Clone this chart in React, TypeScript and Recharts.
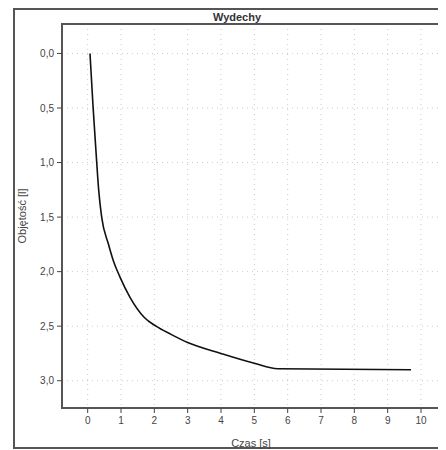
import React from "react";
import { LineChart, Line, XAxis, YAxis, CartesianGrid, ReferenceArea } from "recharts";

const timeS = [0.07, 0.16, 0.25, 0.33, 0.42, 0.62, 0.77, 0.97, 1.27, 1.7, 2.05, 2.5, 3.0, 4.0, 5.0, 5.7, 9.7];
const volumeL = [0.0, 0.48, 0.9, 1.25, 1.5, 1.745, 1.9, 2.05, 2.235, 2.42, 2.5, 2.575, 2.65, 2.75, 2.84, 2.89, 2.9];
const xTicks = [0, 1, 2, 3, 4, 5, 6, 7, 8, 9, 10];
const yTicks = [0, 0.5, 1.0, 1.5, 2.0, 2.5, 3.0];
const xDomain = [-0.77, 10.57];
const yDomain = [-0.27, 3.25];
const title = "Wydechy";
const xLabel = "Czas [s]";
const yLabel = "Objętość [l]";

const data = timeS.map((t, i) => ({ t, v: volumeL[i] }));

const FONT = "'Liberation Sans', Arial, sans-serif";
const tickStyle = { fontSize: 10, fill: "#444", fontFamily: FONT };

export default function App() {
  return (
    <div style={{ position: "relative", width: 438, height: 442, overflow: "hidden", fontFamily: FONT }}>
      <div
        style={{
          position: "absolute",
          left: 5,
          top: 0,
          width: 460,
          height: 437,
          border: "2px solid #555",
        }}
      />
      <div
        style={{
          position: "absolute",
          left: 229 - 60,
          width: 120,
          top: 3,
          textAlign: "center",
          fontSize: 11,
          fontWeight: "bold",
          color: "#333",
        }}
      >
        {title}
      </div>
      <div style={{ position: "absolute", left: 0, top: 0 }}>
        <LineChart width={438} height={442} data={data} margin={{ top: 16, right: 6, bottom: 0, left: 0 }}>
          <CartesianGrid stroke="#ccc" strokeDasharray="1 4" horizontal vertical />
          <XAxis
            dataKey="t"
            type="number"
            domain={xDomain}
            ticks={xTicks}
            allowDataOverflow
            height={42}
            tick={tickStyle}
            tickSize={5}
            tickLine={{ stroke: "#444" }}
            axisLine={{ stroke: "#555", strokeWidth: 2 }}
            tickMargin={4}
            label={{ value: xLabel, position: "insideBottom", offset: 3, style: { fontSize: 11, fill: "#444", fontFamily: FONT } }}
          />
          <YAxis
            dataKey="v"
            type="number"
            reversed
            domain={yDomain}
            ticks={yTicks}
            allowDataOverflow
            width={54}
            tick={tickStyle}
            tickSize={5}
            tickMargin={3}
            tickLine={{ stroke: "#444" }}
            axisLine={{ stroke: "#555", strokeWidth: 2 }}
            tickFormatter={(v: number) => v.toFixed(1).replace(".", ",")}
            label={{ value: yLabel, angle: -90, position: "insideLeft", offset: 14, style: { fontSize: 11, fill: "#444", fontFamily: FONT, textAnchor: "middle" } }}
          />
          <ReferenceArea
            x1={xDomain[0]}
            x2={xDomain[1]}
            y1={yDomain[0]}
            y2={yDomain[1]}
            fill="none"
            stroke="#555"
            strokeWidth={2}
            ifOverflow="visible"
          />
          <Line
            type="monotone"
            dataKey="v"
            stroke="#111"
            strokeWidth={1.6}
            dot={false}
            isAnimationActive={false}
          />
        </LineChart>
      </div>
    </div>
  );
}
